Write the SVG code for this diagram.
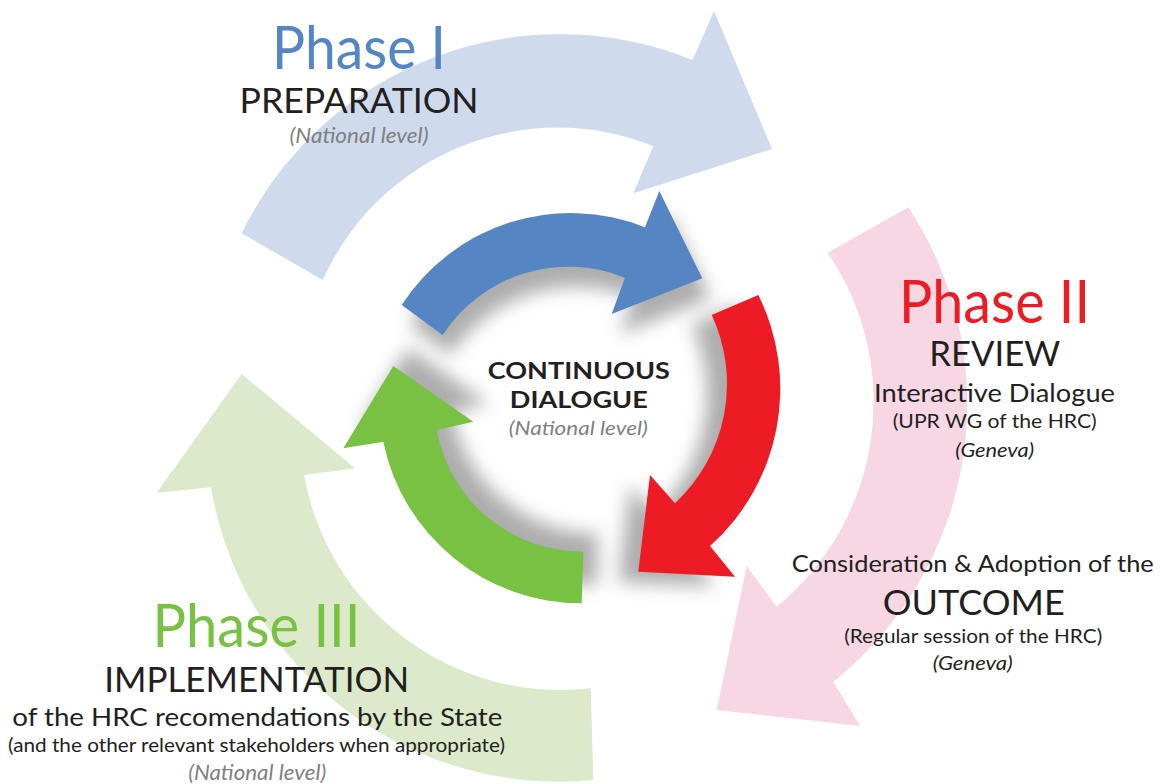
<svg xmlns="http://www.w3.org/2000/svg" xmlns:xlink="http://www.w3.org/1999/xlink" width="1162" height="784" viewBox="0 0 1162 784">
<style>
text{font-family:Lato,"Open Sans","DejaVu Sans",sans-serif;text-anchor:middle;fill:#231f20}
.ph{font-size:60px}
.h2{font-size:34px}
.s{font-size:20px}
.m{font-size:24px}
.it{font-style:italic}
.gr{fill:#7f7f7f}
.b{font-weight:700;font-size:22px}
.shadow{fill:#8a8a8a;opacity:.7;filter:url(#blur)}
</style>
<defs>
<filter id="blur" x="-30%" y="-30%" width="160%" height="160%"><feGaussianBlur stdDeviation="9"/></filter>
<path id="p-blue" d="M401.7,305 A201,201 0 0 1 645,227.3 L659.3,191 L702.3,278.3 L611.7,314 L625,277.7 A150,150 0 0 0 442.7,335 Z"/>
<path id="p-red" d="M758.3,295 A211,211 0 0 1 710,546 L735,576.7 L638.3,571.7 L650,475 L675,503.3 A163,163 0 0 0 711.7,315 Z"/>
<path id="p-green" d="M581.7,603.3 A202,202 0 0 1 383.3,441.7 L343.3,448.3 L393.3,366 L473.3,421.7 L436.7,430 A148,148 0 0 0 583.3,551.7 Z"/>
</defs>
<g id="phase1-arrow"><path fill="#cfdaed" d="M241.7,233.3 A354,354 0 0 1 692.7,60 L714,11 L772,149 L633.3,193.3 L653.3,146 A257.5,257.5 0 0 0 322.7,280 Z"/></g>
<g id="phase2-arrow"><path fill="#f8d7e4" d="M908.3,207.3 A356,356 0 0 1 833.3,681.7 L860,726 L716.7,710 L746.7,566 L776.7,606.7 A265,265 0 0 0 827.7,252.7 Z"/></g>
<g id="phase3-arrow"><path fill="#dce9ca" d="M593.3,780 A353,353 0 0 1 211,487.3 L156.7,492.7 L241.7,374 L355,468.3 L304,475 A260.6,260.6 0 0 0 590.7,688.3 Z"/></g>
<g id="connectors">
<use xlink:href="#p-blue" class="shadow" transform="translate(8,20)"/>
<use xlink:href="#p-red" class="shadow" transform="translate(-20,10)"/>
<use xlink:href="#p-green" class="shadow" transform="translate(15,-18)"/>
<use xlink:href="#p-blue" fill="#5585c2"/>
<use xlink:href="#p-red" fill="#ed1c24"/>
<use xlink:href="#p-green" fill="#79c143"/>
</g>
<g id="phase1-label">
<text class="ph" x="359" y="69" style="fill:#5585c2" textLength="174" lengthAdjust="spacingAndGlyphs">Phase I</text>
<text class="h2" x="359" y="113.3" textLength="239" lengthAdjust="spacingAndGlyphs">PREPARATION</text>
<text class="it gr" x="359" y="143" style="font-size:21px" textLength="139" lengthAdjust="spacingAndGlyphs">(National level)</text>
</g>
<g id="phase2-label">
<text class="ph" x="994.5" y="322.7" style="fill:#ed1c24" textLength="191" lengthAdjust="spacingAndGlyphs">Phase II</text>
<text class="h2" x="994.7" y="366" textLength="131" lengthAdjust="spacingAndGlyphs">REVIEW</text>
<text x="994.5" y="402.3" style="font-size:25px" textLength="241" lengthAdjust="spacingAndGlyphs">Interactive Dialogue</text>
<text class="s" x="994.7" y="428.3" textLength="204" lengthAdjust="spacingAndGlyphs">(UPR WG of the HRC)</text>
<text class="s it" x="994.7" y="456.7" textLength="79" lengthAdjust="spacingAndGlyphs">(Geneva)</text>
</g>
<g id="outcome-label">
<text class="m" x="972.8" y="571.7" textLength="362" lengthAdjust="spacingAndGlyphs">Consideration &amp; Adoption of the</text>
<text x="973.8" y="615" style="font-size:35px" textLength="182" lengthAdjust="spacingAndGlyphs">OUTCOME</text>
<text class="s" x="973.2" y="642.7" textLength="258" lengthAdjust="spacingAndGlyphs">(Regular session of the HRC)</text>
<text class="s it" x="972.7" y="670" textLength="80" lengthAdjust="spacingAndGlyphs">(Geneva)</text>
</g>
<g id="phase3-label">
<text class="ph" x="256.5" y="646.7" style="fill:#79c143" textLength="208" lengthAdjust="spacingAndGlyphs">Phase III</text>
<text x="256.7" y="691.7" style="font-size:35px" textLength="305" lengthAdjust="spacingAndGlyphs">IMPLEMENTATION</text>
<text x="257.3" y="726" style="font-size:25px" textLength="490" lengthAdjust="spacingAndGlyphs">of the HRC recomendations by the State</text>
<text class="s" x="256.5" y="751.7" textLength="497" lengthAdjust="spacingAndGlyphs">(and the other relevant stakeholders when appropriate)</text>
<text class="it gr" x="257.2" y="780" style="font-size:21px" textLength="138" lengthAdjust="spacingAndGlyphs">(National level)</text>
</g>
<g id="center-label">
<text class="b" x="578.8" y="379" textLength="182" lengthAdjust="spacingAndGlyphs">CONTINUOUS</text>
<text class="b" x="578.8" y="408.3" textLength="138" lengthAdjust="spacingAndGlyphs">DIALOGUE</text>
<text class="it gr" x="578.3" y="435" style="font-size:20px" textLength="139" lengthAdjust="spacingAndGlyphs">(National level)</text>
</g>
</svg>
